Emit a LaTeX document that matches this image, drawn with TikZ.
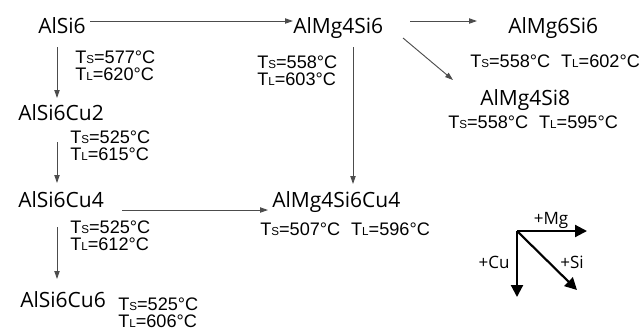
\documentclass[tikz,border=0pt]{standalone}
\usepackage{fontspec}
\setmainfont{Open Sans}
\newfontfamily\tempfont{Liberation Sans}
\usetikzlibrary{arrows.meta,calc}
\newcommand\Tx[1]{T{\fontsize{8.7}{8.7}\selectfont #1}}
\newcommand\Tsl[2]{\Tx{S}=#1°C\\\Tx{L}=#2°C}

\begin{document}
\begin{tikzpicture}[x=0.75pt,y=-0.75pt,
  alloy/.style={anchor=base west,inner sep=0pt,font=\fontsize{15.75}{18}\selectfont},
  temp/.style={anchor=base west,inner sep=0pt,align=left,font=\tempfont\fontsize{13.6}{12.75}\selectfont},
  arr/.style={-{Triangle[length=6pt,width=4pt]},draw=black!70,line width=0.7pt},
  big/.style={-{Triangle[length=9pt,width=9pt]},line width=1.6pt}]
\useasboundingbox (0,0) rectangle (641,330);
\node[alloy](si6) at (38,33){AlSi6};
\node[alloy](si6cu2) at (18,120){AlSi6Cu2};
\node[alloy](si6cu4) at (18,207){AlSi6Cu4};
\node[alloy](si6cu6) at (20,307){AlSi6Cu6};
\node[alloy](mg4si6) at (293,33){AlMg4Si6};
\node[alloy](mg6si6) at (508,33){AlMg6Si6};
\node[alloy](mg4si8) at (480,105){AlMg4Si8};
\node[alloy](mg4si6cu4) at (272,207){AlMg4Si6Cu4};
% two-line texts sit on their last line
\node[temp](tsi6) at (75,80){\Tsl{577}{620}};
\node[temp](tsi6cu2) at (70,160){\Tsl{525}{615}};
\node[temp](tsi6cu4) at (70,250){\Tsl{525}{612}};
\node[temp](tsi6cu6) at (118,327){\Tsl{525}{606}};
\node[temp](tmg4si6) at (257,85){\Tsl{558}{603}};
\node[temp](tmg6si6) at (470,67){\Tx{S}=558°C\hspace{0.6em}\Tx{L}=602°C};
\node[temp](tmg4si8) at (448,128){\Tx{S}=558°C\hspace{0.6em}\Tx{L}=595°C};
\node[temp](tmg4si6cu4) at (260,235){\Tx{S}=507°C\hspace{0.6em}\Tx{L}=596°C};
\draw[arr]($(si6.base west)+(19,14)$)--($(si6cu2.base west)+(39,-22)$);
\draw[arr]($(si6cu2.base west)+(39,22)$)--($(si6cu4.base west)+(39,-24)$);
\draw[arr]($(si6cu4.base west)+(39,20)$)--($(si6cu6.base west)+(37,-28)$);
\draw[arr]($(si6.base west)+(52,-12)$)--($(mg4si6.base west)+(0,-12)$);
\draw[arr]($(mg4si6.base west)+(117,-12)$)--($(mg6si6.base west)+(-31,-12)$);
\draw[arr]($(mg4si6.base west)+(110,5)$)--($(mg4si8.base west)+(-27,-25)$);
\draw[arr]($(mg4si6.base west)+(60,14)$)--($(mg4si6cu4.base west)+(81,-23)$);
\draw[arr]($(si6cu4.base west)+(104,3)$)--($(mg4si6cu4.base west)+(-4,3)$);
% legend
\coordinate(o) at (517,231);
\coordinate(mg) at (587,231);
\coordinate(cu) at (517,297);
\coordinate(si) at (577,290);
\draw[big](o)--(mg);
\draw[big](o)--(cu);
\draw[big](o)--(si);
\node[font=\fontsize{12.75}{14}\selectfont,inner sep=0pt](lmg) at (551,220){+Mg};
\node[font=\fontsize{12.75}{14}\selectfont,inner sep=0pt](lcu) at (494,262){+Cu};
\node[font=\fontsize{12.75}{14}\selectfont,inner sep=0pt](lsi) at (572,262){+Si};
\end{tikzpicture}
\end{document}
